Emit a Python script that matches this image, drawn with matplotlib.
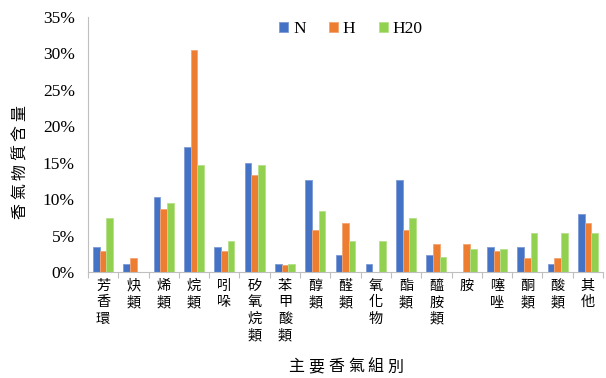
import matplotlib
matplotlib.use("Agg")
import matplotlib.pyplot as plt
import numpy as np
from matplotlib.ticker import PercentFormatter

categories = ["芳香環", "炔類", "烯類", "烷類", "吲哚", "矽氧烷類", "苯甲酸類", "醇類", "醛類",
              "氧化物", "酯類", "醯胺類", "胺", "噻唑", "酮類", "酸類", "其他"]
series_names = ["N", "H", "H20"]
n_vals = [3.4, 1.1, 10.3, 17.2, 3.4, 14.9, 1.1, 12.6, 2.3, 1.1, 12.6, 2.3, 0.0, 3.4, 3.4, 1.1, 8.0]
h_vals = [2.9, 1.9, 8.6, 30.5, 2.9, 13.3, 1.0, 5.7, 6.7, 0.0, 5.7, 3.8, 3.8, 2.9, 1.9, 1.9, 6.7]
h20_vals = [7.4, 0.0, 9.5, 14.7, 4.2, 14.7, 1.1, 8.4, 4.2, 4.2, 7.4, 2.1, 3.2, 3.2, 5.3, 5.3, 5.3]
y_title = "香氣物質含量"
x_title = "主要香氣組別"
colors = ["#4472C4", "#ED7D31", "#92D050"]
edge_colors = ["#7C9BD6", "#F3A474", "#B5E08A"]

cjk = ["Noto Sans CJK TC", "DejaVu Sans"]
serif = ["Liberation Serif", "DejaVu Serif"]

W, H = 606, 378
fig = plt.figure(figsize=(W / 100, H / 100), dpi=100)
ax = fig.add_axes([88 / W, 1 - 272 / H, 515 / W, 255 / H])

x = np.arange(len(categories))
width = 0.22
for i, (vals, name) in enumerate(zip([n_vals, h_vals, h20_vals], series_names)):
    ax.bar(x + (i - 1) * width, vals, width, color=colors[i], edgecolor=edge_colors[i],
           linewidth=0.6, label=name, zorder=2)

ax.set_xlim(-0.5, len(categories) - 0.5)
ax.set_ylim(0, 35)
ax.set_yticks(np.arange(0, 36, 5))
ax.yaxis.set_major_formatter(PercentFormatter(decimals=0))
for lbl in ax.get_yticklabels():
    lbl.set_fontfamily(serif)
    lbl.set_fontsize(12.5)
ax.tick_params(axis="y", length=0, pad=9.5)

ax.set_xticks(x)
ax.set_xticklabels(["\n".join(c) for c in categories], fontfamily=cjk, fontsize=10.2,
                   linespacing=1.22, va="top")
ax.tick_params(axis="x", which="major", length=0, pad=5)
ax.set_xticks(np.arange(-0.5, len(categories), 1), minor=True)
ax.tick_params(axis="x", which="minor", length=4, color="#BFBFBF", width=0.8)

for s in ["top", "right"]:
    ax.spines[s].set_visible(False)
for s in ["left", "bottom"]:
    ax.spines[s].set_color("#BFBFBF")
    ax.spines[s].set_linewidth(0.8)

ax.legend(loc="upper center", bbox_to_anchor=(351 / W, 1 - 14 / H),
          bbox_transform=fig.transFigure, ncol=3, frameon=False,
          prop={"family": serif, "size": 12.5}, handlelength=0.5, handleheight=0.5,
          handletextpad=0.3, columnspacing=1.35, borderaxespad=0)


def spaced_text(chars, cx, cy, pitch, vertical=False, **kw):
    """Place characters one by one with a fixed pitch around a centre point (pixels)."""
    n = len(chars)
    for k, ch in enumerate(chars):
        off = (k - (n - 1) / 2) * pitch
        if vertical:
            fig.text(cx / W, 1 - (cy - off) / H, ch, rotation=90,
                     ha="center", va="center", **kw)
        else:
            fig.text((cx + off) / W, 1 - cy / H, ch, ha="center", va="center", **kw)


spaced_text(y_title, 20, 162, 19.5, vertical=True, fontfamily=cjk, fontsize=11.5)
spaced_text(x_title, 346, 367, 19.8, fontfamily=cjk, fontsize=11.5)

fig.savefig("out.png", dpi=100)
